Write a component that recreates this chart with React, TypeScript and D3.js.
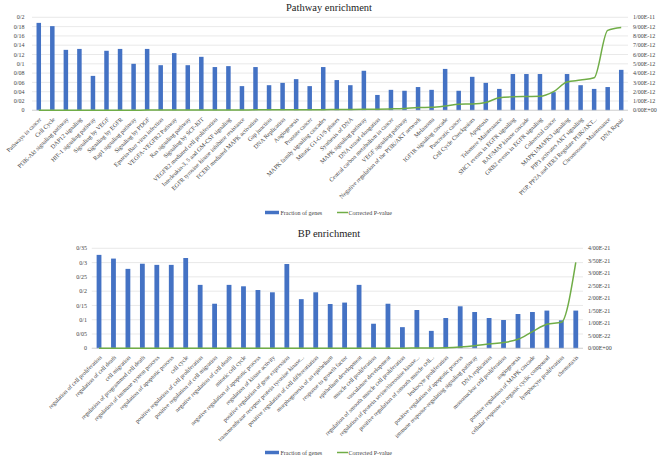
import React from "react";
import * as d3 from "d3";

// ---------- Pathway enrichment data ----------
const pathwayCategories = [
  "Pathways in cancer", "Cell Cycle", "PI3K-Akt signaling pathway", "DAP12 signaling",
  "HIF-1 signaling pathway", "Signaling by VEGF", "Signaling by EGFR", "Rap1 signaling pathway",
  "Signaling by PDGF", "Epstein-Barr virus infection", "VEGFA-VEGFR2 Pathway", "Ras signaling pathway",
  "Signaling by SCF-KIT", "VEGFR2 mediated cell proliferation", "Interleukin-3, 5 and GM-CSF signaling",
  "EGFR tyrosine kinase inhibitor resistance", "FCERI mediated MAPK activation", "Gap junction",
  "DNA Replication", "Angiogenesis", "Prostate cancer", "MAPK family signaling cascades",
  "Mitotic G1-G1/S phases", "Synthesis of DNA", "MAPK signaling pathway", "DNA strand elongation",
  "Central carbon metabolism in cancer", "VEGF signaling pathway",
  "Negative regulation of the PI3K/AKT network", "Melanoma", "IGF1R signaling cascade",
  "Pancreatic cancer", "Cell Cycle Checkpoints", "Apoptosis", "Telomere Maintenance",
  "SHC1 events in EGFR signaling", "RAF/MAP kinase cascade", "GRB2 events in EGFR signaling",
  "Colorectal cancer", "MAPK1/MAPK3 signaling", "PIP3 activates AKT signaling",
  "PI5P, PP2A and IER3 Regulate PI3K/AKT...", "Chromosome Maintenance", "DNA Repair",
];
const pathwayFraction = [
  0.188, 0.181, 0.130, 0.132, 0.074, 0.128, 0.132, 0.100, 0.132, 0.097, 0.123, 0.097,
  0.115, 0.093, 0.095, 0.052, 0.093, 0.054, 0.059, 0.067, 0.052, 0.093, 0.065, 0.054,
  0.085, 0.033, 0.044, 0.042, 0.050, 0.044, 0.089, 0.042, 0.072, 0.059, 0.046, 0.078,
  0.078, 0.078, 0.039, 0.078, 0.054, 0.046, 0.050, 0.087,
];
// corrected P-value, in units of 1e-12
const pathwayPValue = [
  0.0, 0.0, 0.0, 0.0, 0.01, 0.01, 0.01, 0.01, 0.02, 0.02, 0.02, 0.03,
  0.03, 0.03, 0.04, 0.04, 0.05, 0.05, 0.06, 0.06, 0.07, 0.07, 0.08, 0.09,
  0.1, 0.12, 0.15, 0.2, 0.3, 0.32, 0.45, 0.65, 0.68, 0.85, 1.35, 1.45,
  1.48, 1.5, 2.0, 3.05, 3.25, 3.5, 8.6, 8.9,
];
const pathwayLeftTicks = ["0", "0/02", "0/04", "0/06", "0/08", "0/1", "0/12", "0/14", "0/16", "0/18", "0/2"];
const pathwayRightTicks = ["0/00E+00", "1/00E-12", "2/00E-12", "3/00E-12", "4/00E-12", "5/00E-12", "6/00E-12", "7/00E-12", "8/00E-12", "9/00E-12", "1/00E-11"];

// ---------- BP enrichment data ----------
const bpCategories = [
  "regulation of cell proliferation", "regulation of cell death", "cell migration",
  "regulation of programmed cell death", "regulation of immune system process",
  "regulation of apoptotic process", "cell cycle", "positive regulation of cell proliferation",
  "positive regulation of cell migration", "negative regulation of cell death", "mitotic cell cycle",
  "negative regulation of apoptotic process", "regulation of kinase activity",
  "positive regulation of gene expression", "transmembrane receptor protein tyrosine kinase...",
  "positive regulation of cell differentiation", "morphogenesis of an epithelium",
  "response to growth factor", "epithelium development", "muscle cell proliferation",
  "vasculature development", "regulation of smooth muscle cell proliferation",
  "regulation of protein serine/threonine kinase...", "positive regulation of smooth muscle cell...",
  "leukocyte proliferation", "positive regulation of apoptotic process",
  "immune response-regulating signaling pathway", "DNA replication", "mononuclear cell proliferation",
  "angiogenesis", "positive regulation of MAPK cascade", "cellular response to organic cyclic compound",
  "lymphocyte proliferation", "chemotaxis",
];
const bpFraction = [
  0.327, 0.314, 0.278, 0.296, 0.292, 0.292, 0.316, 0.222, 0.156, 0.222, 0.217, 0.204,
  0.196, 0.295, 0.172, 0.196, 0.155, 0.160, 0.222, 0.086, 0.156, 0.074, 0.134, 0.061,
  0.106, 0.147, 0.127, 0.106, 0.099, 0.120, 0.127, 0.132, 0.098, 0.132,
];
// corrected P-value, in units of 1e-21
const bpPValue = [
  0.0, 0.0, 0.0, 0.0, 0.0, 0.0, 0.0, 0.0, 0.0, 0.0, 0.0, 0.0,
  0.0, 0.0, 0.0, 0.0, 0.0, 0.0, 0.0, 0.0, 0.005, 0.005, 0.01, 0.01,
  0.02, 0.05, 0.1, 0.17, 0.23, 0.36, 0.67, 0.96, 1.04, 3.44,
];
const bpLeftTicks = ["0", "0/05", "0/1", "0/15", "0/2", "0/25", "0/3", "0/35"];
const bpRightTicks = ["0/00E+00", "5/00E-22", "1/00E-21", "1/50E-21", "2/00E-21", "2/50E-21", "3/00E-21", "3/50E-21", "4/00E-21"];

const legendLabels = ["Fraction of genes", "Corrected P-value"];

const BLUE = "#4472C4";
const GREEN = "#70AD47";
const FONT = "'Liberation Serif', 'DejaVu Serif', serif";

type PanelProps = {
  title: string;
  titleY: number;
  categories: string[];
  fraction: number[];
  pvalue: number[];
  leftTicks: string[];
  rightTicks: string[];
  leftMax: number;
  rightMax: number;
  x0: number;
  x1: number;
  yBottom: number;
  yTop: number;
  leftLabelX: number;
  rightLabelX: number;
  barWidth: number;
  legendY: number;
};

function Panel(p: PanelProps) {
  const x = d3.scaleBand<string>().domain(p.categories).range([p.x0, p.x1]);
  const yL = d3.scaleLinear().domain([0, p.leftMax]).range([p.yBottom, p.yTop]);
  const yR = d3.scaleLinear().domain([0, p.rightMax]).range([p.yBottom, p.yTop]);
  const n = p.leftTicks.length;
  const leftVals = d3.range(n).map((i) => (p.leftMax * i) / (n - 1));
  const nr = p.rightTicks.length;
  const rightVals = d3.range(nr).map((i) => (p.rightMax * i) / (nr - 1));
  const cx = (c: string) => (x(c) as number) + x.bandwidth() / 2;
  const line = d3
    .line<number>()
    .x((_, i) => cx(p.categories[i]))
    .y((v) => yR(v))
    .curve(d3.curveMonotoneX);
  const midX = 329;
  return (
    <g>
      <text x={midX} y={p.titleY} textAnchor="middle" fontSize={10.5} fill="#222">
        {p.title}
      </text>
      {leftVals.map((v, i) => (
        <g key={"l" + i}>
          <line x1={p.x0} x2={p.x1} y1={yL(v)} y2={yL(v)} stroke="#e3e3e3" strokeWidth={0.8} />
          <text x={p.leftLabelX} y={yL(v)} dy="0.35em" textAnchor="end" fontSize={6} fill="#444">
            {p.leftTicks[i]}
          </text>
        </g>
      ))}
      {rightVals.map((v, i) => (
        <text key={"r" + i} x={p.rightLabelX} y={yR(v)} dy="0.35em" textAnchor="start" fontSize={6} fill="#444">
          {p.rightTicks[i]}
        </text>
      ))}
      {p.categories.map((c, i) => (
        <rect
          key={"b" + i}
          x={cx(c) - p.barWidth / 2}
          y={yL(p.fraction[i])}
          width={p.barWidth}
          height={p.yBottom - yL(p.fraction[i])}
          fill={BLUE}
        />
      ))}
      <line x1={p.x0} x2={p.x1} y1={p.yBottom} y2={p.yBottom} stroke="#d0d0d0" strokeWidth={0.8} />
      <path d={line(p.pvalue) || ""} fill="none" stroke={GREEN} strokeWidth={1.5} />
      {p.categories.map((c, i) => (
        <text
          key={"c" + i}
          transform={`translate(${cx(c) + 1.5},${p.yBottom + 8}) rotate(-45)`}
          textAnchor="end"
          dy="0.35em"
          fontSize={6}
          fill="#444"
        >
          {c}
        </text>
      ))}
      <g transform={`translate(0,${p.legendY})`}>
        <line x1={265} x2={279} y1={0} y2={0} stroke={BLUE} strokeWidth={3.5} />
        <text x={280.5} y={0} dy="0.35em" fontSize={6} fill="#444">
          {legendLabels[0]}
        </text>
        <line x1={337} x2={348} y1={0} y2={0} stroke={GREEN} strokeWidth={1.5} />
        <text x={348.5} y={0} dy="0.35em" fontSize={6} fill="#444">
          {legendLabels[1]}
        </text>
      </g>
    </g>
  );
}

export default function App() {
  return (
    <svg
      width={658}
      height={456}
      style={{ position: "absolute", left: 0, top: 0, background: "#fff", fontFamily: FONT }}
    >
      <rect x={0} y={0} width={658} height={456} fill="#fff" />
      <Panel
        title="Pathway enrichment"
        titleY={11}
        categories={pathwayCategories}
        fraction={pathwayFraction}
        pvalue={pathwayPValue}
        leftTicks={pathwayLeftTicks}
        rightTicks={pathwayRightTicks}
        leftMax={0.2}
        rightMax={10}
        x0={32}
        x1={628}
        yBottom={110.3}
        yTop={17.3}
        leftLabelX={24.5}
        rightLabelX={633}
        barWidth={4.5}
        legendY={212.5}
      />
      <Panel
        title="BP enrichment"
        titleY={237}
        categories={bpCategories}
        fraction={bpFraction}
        pvalue={bpPValue}
        leftTicks={bpLeftTicks}
        rightTicks={bpRightTicks}
        leftMax={0.35}
        rightMax={4}
        x0={91.8}
        x1={583}
        yBottom={348.3}
        yTop={248.3}
        leftLabelX={87}
        rightLabelX={588}
        barWidth={4.8}
        legendY={452.5}
      />
    </svg>
  );
}
